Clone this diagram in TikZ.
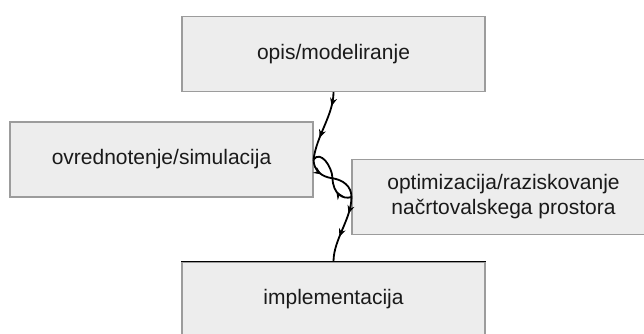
\documentclass[tikz,border=0pt]{standalone}
\usepackage{fontspec}
\setmainfont{Liberation Sans}
\usetikzlibrary{arrows.meta,decorations.markings,calc}
\definecolor{boxfill}{HTML}{EDEDED}
\definecolor{boxline}{HTML}{9C9C9C}
\definecolor{ink}{HTML}{1A1A1A}
\begin{document}
\begin{tikzpicture}[x=1pt,y=-1pt,
  stage/.style={draw=boxline, line width=1.1pt, fill=boxfill, text=ink,
    minimum width=303pt, minimum height=75pt, inner sep=0pt, align=center,
    font=\fontsize{21}{25}\selectfont},
  flow/.style={line width=1.8pt, black},
  tick at/.style={postaction={decorate, decoration={markings,
    mark=at position #1 with {\arrow{Stealth[length=8pt,width=7pt]}}}}},
]
% canvas
\fill[white] (0,0) rectangle (644,333);
\useasboundingbox (0,0) rectangle (644,333);

% design stages
\node[stage] (spec) at (333.5,54)  {opis/modeliranje};
\node[stage] (sim)  at (161.5,159.5) {ovrednotenje/simulacija};
\node[stage] (opt)  at (503.5,197) {optimizacija/raziskovanje\\načrtovalskega prostora};
\node[stage] (impl) at (333.5,299.5) {implementacija};
\draw[black, line width=1.1pt] (impl.north west) -- (impl.north east);

% flow between stages
\draw[flow, tick at=0.2, tick at=0.68]
  (spec.south) .. controls +(0,23) and +(3,-24) .. (sim.east);

% iteration loop between simulation and optimization
\coordinate (cross) at ($(sim.east)!0.5!(opt.west)$);
\draw[flow, tick at=0.3]
  (sim.east) .. controls +(0,11) and +(-10.5,-1.2) .. (cross)
             .. controls +(10.5,1.7) and +(0,-11) .. (opt.west);
\draw[flow, tick at=0.27]
  (opt.west) .. controls +(-9,3) and +(0.5,15) .. (cross)
             .. controls +(-0.5,-12) and +(7,-9.5) .. (sim.east);

\draw[flow, tick at=0.25, tick at=0.62]
  (opt.west) .. controls +(0,22) and +(0,-22) .. (impl.north);
\end{tikzpicture}
\end{document}
